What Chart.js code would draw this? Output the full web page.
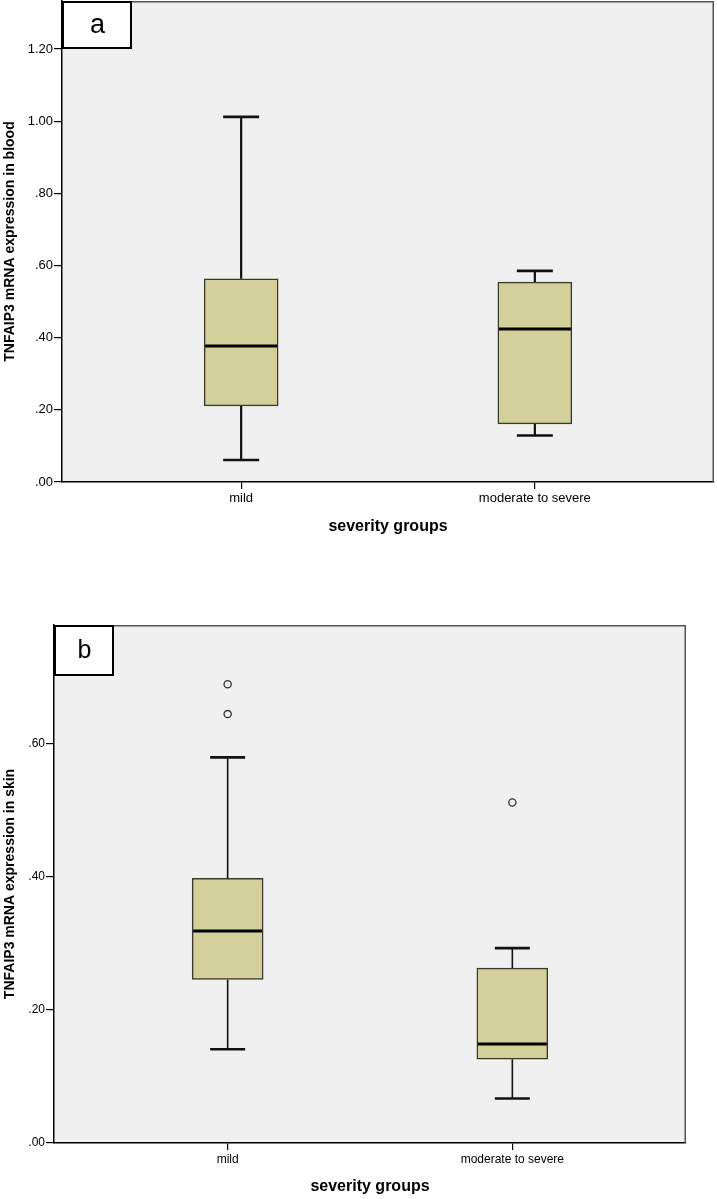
<!DOCTYPE html>
<html>
<head>
<meta charset="utf-8">
<script src="https://cdn.jsdelivr.net/npm/chart.js@4.4.1/dist/chart.umd.min.js"></script>
<style>
  html, body { margin: 0; padding: 0; background: #ffffff; }
  .wrap { position: relative; width: 717px; }
</style>
</head>
<body>
<div class="wrap" style="height:545px"><canvas id="chartA"></canvas></div>
<div class="wrap" style="height:654px"><canvas id="chartB"></canvas></div>
<script>
// ---------- DATA ----------
const categories = ['mild', 'moderate to severe'];

// Panel a: TNFAIP3 mRNA expression in blood
const bloodMin    = [0.061, 0.129];
const bloodQ1     = [0.211, 0.161];
const bloodMedian = [0.377, 0.424];
const bloodQ3     = [0.563, 0.554];
const bloodMax    = [1.012, 0.585];
const bloodOutliers = [[], []];
const bloodTicks  = [0, 0.2, 0.4, 0.6, 0.8, 1.0, 1.2];

// Panel b: TNFAIP3 mRNA expression in skin
const skinMin    = [0.141, 0.067];
const skinQ1     = [0.246, 0.126];
const skinMedian = [0.319, 0.149];
const skinQ3     = [0.398, 0.263];
const skinMax    = [0.580, 0.293];
const skinOutliers = [[0.690, 0.645], [0.512]];
const skinTicks  = [0, 0.2, 0.4, 0.6];

// ---------- HELPERS ----------
const fmt = v => v.toFixed(2).replace(/^0\./, '.');

function makeChart(id, cfg) {
  const boxData = categories.map((c, i) => ({ x: i + 1, y: [cfg.q1[i], cfg.q3[i]] }));
  const outData = [];
  cfg.outliers.forEach((arr, i) => arr.forEach(v => outData.push({ x: i + 1, y: v })));

  const bgPlugin = {
    id: 'bg' + id,
    beforeDraw(chart) {
      const { ctx, chartArea: a } = chart;
      ctx.save();
      ctx.fillStyle = '#f0f0f0';
      ctx.fillRect(a.left, a.top, a.right - a.left, a.bottom - a.top);
      ctx.restore();
    },
    beforeDatasetsDraw(chart) {
      const { ctx, scales: { x, y } } = chart;
      ctx.save();
      ctx.strokeStyle = '#111';
      categories.forEach((c, i) => {
        const px = x.getPixelForValue(i + 1);
        ctx.lineWidth = cfg.whiskerWidth;
        ctx.beginPath();
        ctx.moveTo(px, y.getPixelForValue(cfg.max[i]));
        ctx.lineTo(px, y.getPixelForValue(cfg.q3[i]));
        ctx.moveTo(px, y.getPixelForValue(cfg.q1[i]));
        ctx.lineTo(px, y.getPixelForValue(cfg.min[i]));
        ctx.stroke();
        ctx.lineWidth = cfg.capLineWidth;
        ctx.beginPath();
        [cfg.max[i], cfg.min[i]].forEach(v => {
          const py = y.getPixelForValue(v);
          ctx.moveTo(px - cfg.capWidth / 2, py);
          ctx.lineTo(px + cfg.capWidth / 2, py);
        });
        ctx.stroke();
      });
      ctx.restore();
    },
    afterDatasetsDraw(chart) {
      const { ctx, scales: { x, y } } = chart;
      ctx.save();
      ctx.strokeStyle = '#000';
      ctx.lineWidth = 3;
      categories.forEach((c, i) => {
        const px = x.getPixelForValue(i + 1);
        const py = y.getPixelForValue(cfg.median[i]);
        ctx.beginPath();
        ctx.moveTo(px - cfg.boxWidth / 2 + 1, py);
        ctx.lineTo(px + cfg.boxWidth / 2 - 1, py);
        ctx.stroke();
      });
      ctx.restore();
    },
    afterDraw(chart) {
      const { ctx, chartArea: a } = chart;
      ctx.save();
      // top/right frame
      ctx.strokeStyle = '#555';
      ctx.lineWidth = 1.5;
      ctx.beginPath();
      ctx.moveTo(a.left, a.top + 0.75);
      ctx.lineTo(a.right - 0.75, a.top + 0.75);
      ctx.lineTo(a.right - 0.75, a.bottom);
      ctx.stroke();
      // panel label box
      ctx.fillStyle = '#fff';
      ctx.fillRect(a.left, a.top, cfg.labelW, cfg.labelH);
      ctx.strokeStyle = '#000';
      ctx.lineWidth = 2;
      ctx.strokeRect(a.left + 1, a.top + 1, cfg.labelW - 1, cfg.labelH - 1);
      ctx.fillStyle = '#000';
      ctx.font = cfg.labelFont + 'px "Liberation Sans", Arial, sans-serif';
      ctx.textAlign = 'center';
      ctx.textBaseline = 'middle';
      ctx.fillText(cfg.label, a.left + cfg.labelW / 2 + 1, a.top + cfg.labelH / 2 + 1);
      ctx.restore();
    }
  };

  return new Chart(document.getElementById(id), {
    type: 'bar',
    data: {
      datasets: [
        {
          type: 'bar',
          data: boxData,
          backgroundColor: '#d4d09b',
          borderColor: '#3a3a2c',
          borderWidth: 1.5,
          borderSkipped: false,
          barThickness: cfg.boxWidth,
          grouped: false,
          order: 2
        },
        {
          type: 'scatter',
          data: outData,
          pointRadius: 3.6,
          pointBorderWidth: 1.3,
          pointBorderColor: '#333',
          pointBackgroundColor: 'rgba(0,0,0,0)',
          showLine: false,
          order: 1
        }
      ]
    },
    options: {
      responsive: true,
      maintainAspectRatio: false,
      animation: false,
      layout: { padding: cfg.padding },
      plugins: { legend: { display: false }, tooltip: { enabled: false } },
      scales: {
        x: {
          type: 'linear',
          min: 0.39,
          max: 2.61,
          offset: false,
          afterFit(s) { s.height = cfg.xAxisHeight; s.paddingLeft = 0; s.paddingRight = 0; },
          afterBuildTicks(s) { s.ticks = categories.map((c, i) => ({ value: i + 1 })); },
          grid: { display: true, offset: false, drawOnChartArea: false, drawTicks: true, tickLength: 7, color: '#000', lineWidth: 1.2 },
          border: { display: true, color: '#000', width: 1.5 },
          ticks: {
            color: '#000',
            padding: 2,
            autoSkip: false,
            maxRotation: 0,
            font: { family: '"Liberation Sans", Arial, sans-serif', size: cfg.tickFont },
            callback: v => categories[Math.round(v) - 1]
          },
          title: {
            display: true,
            text: 'severity groups',
            color: '#000',
            padding: { top: 0, bottom: cfg.xTitlePad },
            font: { family: '"Liberation Sans", Arial, sans-serif', size: 16, weight: 'bold' }
          }
        },
        y: {
          type: 'linear',
          min: 0,
          max: cfg.yMax,
          afterFit(s) { s.width = cfg.yAxisWidth; s.paddingTop = 0; s.paddingBottom = 0; },
          afterBuildTicks(s) { s.ticks = cfg.ticks.map(v => ({ value: v })); },
          grid: { display: true, drawOnChartArea: false, drawTicks: true, tickLength: 8, color: '#000', lineWidth: 1.2 },
          border: { display: true, color: '#000', width: 1.5 },
          ticks: {
            color: '#000',
            padding: 1,
            font: { family: '"Liberation Sans", Arial, sans-serif', size: cfg.tickFont },
            callback: v => fmt(v)
          },
          title: {
            display: true,
            text: cfg.yTitle,
            color: '#000',
            padding: { top: 2, bottom: 0 },
            font: { family: '"Liberation Sans", Arial, sans-serif', size: 14, weight: 'bold' }
          }
        }
      }
    },
    plugins: [bgPlugin]
  });
}

makeChart('chartA', {
  min: bloodMin, q1: bloodQ1, median: bloodMedian, q3: bloodQ3, max: bloodMax,
  outliers: bloodOutliers, ticks: bloodTicks, yMax: 1.333,
  yTitle: 'TNFAIP3 mRNA expression in blood',
  padding: { left: 0, top: 1, right: 3, bottom: 0 },
  yAxisWidth: 62, xAxisHeight: 63, xTitlePad: 9,
  boxWidth: 74, capWidth: 36, whiskerWidth: 2.2, capLineWidth: 2.6,
  tickFont: 13, label: 'a', labelW: 69, labelH: 47, labelFont: 27
});

makeChart('chartB', {
  min: skinMin, q1: skinQ1, median: skinMedian, q3: skinQ3, max: skinMax,
  outliers: skinOutliers, ticks: skinTicks, yMax: 0.779,
  yTitle: 'TNFAIP3 mRNA expression in skin',
  padding: { left: 0, top: 80, right: 31, bottom: 0 },
  yAxisWidth: 54, xAxisHeight: 56, xTitlePad: 3,
  boxWidth: 71, capWidth: 35, whiskerWidth: 1.6, capLineWidth: 2.6,
  tickFont: 12, label: 'b', labelW: 59, labelH: 50, labelFont: 25
});
</script>
</body>
</html>
